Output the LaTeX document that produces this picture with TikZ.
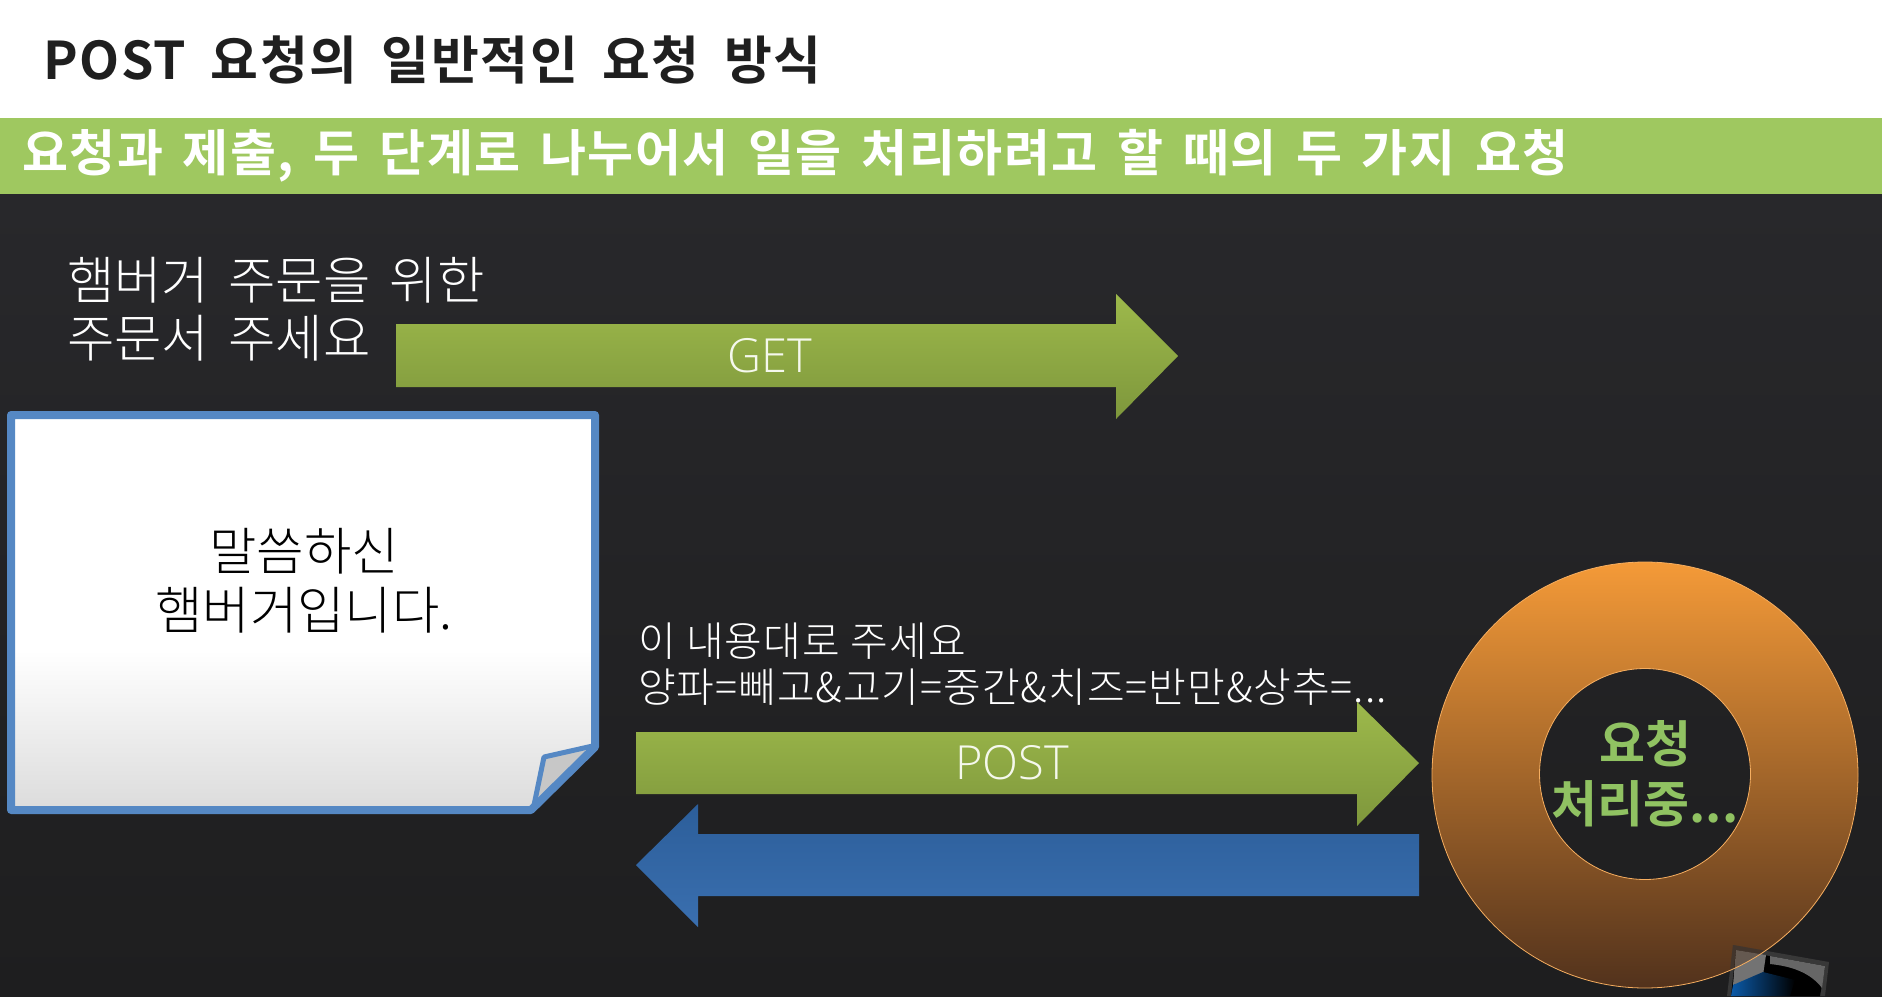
\documentclass[tikz,border=0pt]{standalone}
\usepackage{fontspec}
\newfontfamily\krb[LetterSpace=3]{Noto Sans CJK KR Bold}
\newfontfamily\krbw[LetterSpace=3,WordSpace=1.83]{Noto Sans CJK KR Bold}
\newfontfamily\krbt{Noto Sans CJK KR Bold}
\newfontfamily\krl[WordSpace=1.7]{Noto Sans CJK KR Light}
\newfontfamily\krr[LetterSpace=2.4,WordSpace=1.05]{Noto Sans CJK KR Light}
\newfontfamily\lat{Open Sans Light}
\definecolor{bgtop}{HTML}{28282B}
\definecolor{bgbot}{HTML}{1E1E1F}
\definecolor{barg}{HTML}{9FC860}
\definecolor{gt}{HTML}{9DB94B}
\definecolor{gb}{HTML}{7E973C}
\definecolor{bt}{HTML}{2C5E9A}
\definecolor{bb}{HTML}{3A6FAF}
\definecolor{paperb}{HTML}{5588C4}
\definecolor{ot}{HTML}{F49A38}
\definecolor{ob}{HTML}{52321C}
\definecolor{txtg}{HTML}{90C262}
\definecolor{scr}{HTML}{0B5AA8}
\tikzset{
  greenarrow/.style={top color=gt,bottom color=gb,draw=none},
  bluearrow/.style={top color=bt,bottom color=bb,draw=none},
  lbl/.style={inner sep=0,outer sep=0,align=left,anchor=north west,text=white},
  arrowlbl/.style={inner sep=0,text=white!90!gt},
}
\begin{document}
\begin{tikzpicture}[x=1pt,y=-1pt]
\useasboundingbox (0,0) rectangle (1882,996);
\fill[white] (0,0) rectangle (1882,118);
\shade[top color=bgtop,bottom color=bgbot] (0,194) rectangle (1882,996);
\fill[barg] (0,118) rectangle (1882,194);
\node[inner sep=0,anchor=base west,text=black!88,font=\krbw\fontsize{52}{54}\selectfont] (title) at (43,79) {POST 요청의 일반적인 요청 방식};
\node[inner sep=0,anchor=base west,text=white,font=\krb\fontsize{50}{52}\selectfont] (sub) at (22,171) {\spaceskip=19.7pt\relax 요청과 제출, 두 단계로 나누어서 일을 처리하려고 할 때의 두 가지 요청};
\node[lbl,font=\krl\fontsize{51.5}{58}\selectfont] (order) at (67,257) {햄버거 주문을 위한\\주문서 주세요};
% GET arrow
\path[greenarrow] (396,324) -- (1116,324) -- (1116,294) -- (1178,356) -- (1116,419) -- (1116,387) -- (396,387) -- cycle;
\node[arrowlbl,font=\lat\fontsize{47}{50}\selectfont] (get) at (770,356) {GET};
% paper
\begin{scope}
\clip (11,415) -- (595,415) -- (595,746) -- (532,810) -- (11,810) -- cycle;
\fill[white] (0,400) rectangle (620,820);
\shade[top color=white,bottom color=black!14] (0,650) rectangle (620,812);
\end{scope}
\fill[black!22] (544,758) -- (592,746) -- (534,808) -- cycle;
\draw[paperb,line width=8pt,line join=round] (11,415) -- (595,415) -- (595,747) -- (531,810) -- (11,810) -- cycle;
\draw[paperb,line width=5pt,line join=round] (533,810) -- (544,757) -- (597,745);
\node[inner sep=0,align=center,text=black,font=\krl\fontsize{51.5}{59}\selectfont] (paper) at (304,581) {말씀하신\\햄버거입니다.};
% request text
\node[lbl,font=\krr\fontsize{41}{46}\selectfont] (req) at (638,623) {이 내용대로 주세요\\양파=빼고\&고기=중간\&치즈=반만\&상추=...};
% POST arrow
\path[greenarrow] (636,732) -- (1357,732) -- (1357,702) -- (1419,763) -- (1357,826) -- (1357,794) -- (636,794) -- cycle;
\node[arrowlbl,font=\lat\fontsize{47}{50}\selectfont] (post) at (1012,763) {POST};
% blue arrow
\path[bluearrow] (1419,834) -- (698,834) -- (698,804) -- (636,865) -- (698,927) -- (698,896) -- (1419,896) -- cycle;
% ring
\shade[top color=ot,bottom color=ob,even odd rule] (1645,775) circle[radius=213] (1645,774) circle[radius=105.5];
\node[inner sep=0,align=center,text=txtg,font=\krbt\fontsize{50}{60}\selectfont] (busy) at (1645,774) {요청\\처리중...};
% monitor
\fill[black!78] (1733,945) -- (1829,962) -- (1825,996) -- (1727,996) -- cycle;
\fill[black] (1736,950) -- (1825,966) -- (1820,996) -- (1731,996) -- cycle;
\fill[black!55] (1736,950) -- (1766,955) -- (1763,975) -- (1733,985) -- cycle;
\shade[left color=scr,right color=black] (1733,985) -- (1763,972) -- (1795,980) -- (1790,996) -- (1731,996) -- cycle;
\fill[black!60] (1770,956) -- (1825,966) -- (1822,988) .. controls (1810,972) and (1790,966) .. (1770,964) -- cycle;
\begin{scope}
\clip (1645,775) circle[radius=213];
\fill[ob,fill opacity=.4] (1733,945) -- (1829,962) -- (1825,996) -- (1727,996) -- cycle;
\end{scope}
\draw[ot!80!white,line width=.8pt] (1645,775) circle[radius=213] (1645,774) circle[radius=105.5];
\end{tikzpicture}
\end{document}
